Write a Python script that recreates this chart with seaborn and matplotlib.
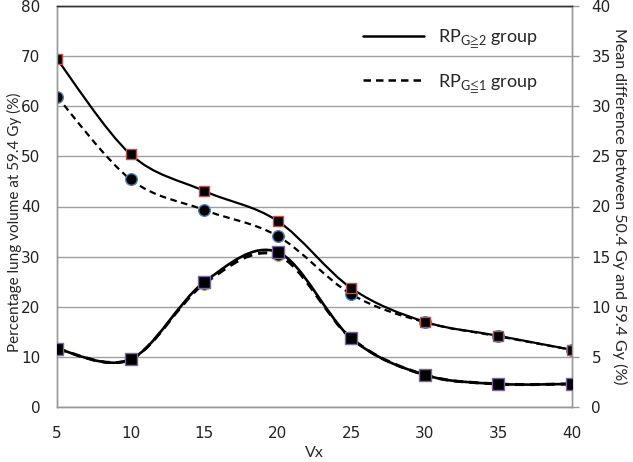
import numpy as np
import matplotlib
matplotlib.use("Agg")
import matplotlib.pyplot as plt
from matplotlib.path import Path
from matplotlib.patches import PathPatch
from matplotlib.lines import Line2D
import seaborn as sns
import pandas as pd

# ---- data ----
vx = [5, 10, 15, 20, 25, 30, 35, 40]
vol_g2 = [69.4, 50.4, 43.1, 37.1, 23.7, 17.0, 14.2, 11.4]      # RP G>=2, left axis
vol_g1 = [61.9, 45.4, 39.3, 34.1, 22.5, 16.9, 14.1, 11.4]      # RP G<=1, left axis
diff_g2 = [5.8, 4.75, 12.45, 15.45, 6.85, 3.2, 2.3, 2.3]      # right axis
diff_g1 = [5.8, 4.75, 12.3, 15.15, 6.85, 3.2, 2.3, 2.3]       # right axis
legend_labels = [r"RP$_{\mathregular{G≧2}}$ group", r"RP$_{\mathregular{G≦1}}$ group"]

sns.set_theme(style="white")
plt.rcParams["font.family"] = ["DejaVu Sans"]

fig = plt.figure(figsize=(6.33, 4.62), dpi=100)
ax = fig.add_axes([57/633, 1-407/462, (572-57)/633, (407-6)/462])
ax2 = ax.twinx()


def smooth(axis, xs, ys, **kw):
    P = np.column_stack([xs, ys]).astype(float)
    ext = np.vstack([P[0], P, P[-1]])
    verts = [tuple(P[0])]
    codes = [Path.MOVETO]
    for i in range(len(P) - 1):
        p0, p1, p2, p3 = ext[i], ext[i+1], ext[i+2], ext[i+3]
        c1 = p1 + (p2 - p0) / 6.0
        c2 = p2 - (p3 - p1) / 6.0
        verts += [tuple(c1), tuple(c2), tuple(p2)]
        codes += [Path.CURVE4] * 3
    patch = PathPatch(Path(verts, codes), facecolor="none", transform=axis.transData, **kw)
    axis.add_patch(patch)


dash = (0, (3, 2))
smooth(ax, vx, vol_g2, edgecolor="black", lw=1.6, zorder=3)
smooth(ax, vx, vol_g1, edgecolor="black", lw=1.6, linestyle=dash, zorder=3)
smooth(ax2, vx, diff_g1, edgecolor="black", lw=2.2, linestyle=dash, zorder=3)
smooth(ax2, vx, diff_g2, edgecolor="black", lw=1.9, zorder=3)

df_up = pd.DataFrame({"vx": vx, "g2": vol_g2, "g1": vol_g1})
df_lo = pd.DataFrame({"vx": vx, "g2": diff_g2, "g1": diff_g1})
sns.scatterplot(data=df_up, x="vx", y="g1", ax=ax, marker="o", s=70, color="black",
                edgecolor="#4f81bd", linewidth=1.0, zorder=4, legend=False)
sns.scatterplot(data=df_up, x="vx", y="g2", ax=ax, marker="s", s=55, color="black",
                edgecolor="#c0504d", linewidth=1.0, zorder=5, legend=False)
sns.scatterplot(data=df_lo, x="vx", y="g1", ax=ax2, marker="o", s=70, color="black",
                edgecolor="#9bbb59", linewidth=1.0, zorder=4, legend=False)
sns.scatterplot(data=df_lo, x="vx", y="g2", ax=ax2, marker="s", s=85, color="black",
                edgecolor="#8064a2", linewidth=1.0, zorder=5, legend=False)

ax.set_xlim(5, 40)
ax.set_ylim(0, 80)
ax2.set_ylim(0, 40)
ax.set_xticks(vx)
ax.set_yticks(np.arange(0, 81, 10))
ax2.set_yticks(np.arange(0, 41, 5))
ax.grid(axis="y", color="#a0a0a0", lw=1.0)
ax.grid(axis="x", visible=False)
ax2.grid(False)

for a in (ax, ax2):
    for s in ("left", "right", "bottom"):
        a.spines[s].set_color("#999999")
        a.spines[s].set_linewidth(1.0)
    a.spines["top"].set_color("#333333")
    a.spines["top"].set_linewidth(1.0)
    a.set_facecolor("none")

ax.tick_params(axis="both", length=0, labelsize=11, colors="#222222")
ax.tick_params(axis="x", pad=14)
ax.tick_params(axis="y", pad=12)
ax2.tick_params(axis="y", length=5, width=1, color="#999999", labelsize=11,
                labelcolor="#222222", pad=9)

lab_font = ["Lato", "DejaVu Sans"]
ax.set_xlabel("Vx", family=lab_font, fontsize=11.5)
ax.xaxis.set_label_coords(0.5, -0.098)
ax.set_ylabel("Percentage lung volume at 59.4 Gy (%)", family=lab_font, fontsize=11)
ax.yaxis.set_label_coords(-0.068, 0.46)
ax2.set_ylabel("Mean difference between 50.4 Gy and 59.4 Gy (%)", family=lab_font,
               fontsize=11.5, rotation=270, labelpad=12)

handles = [Line2D([], [], color="black", lw=1.8),
           Line2D([], [], color="black", lw=1.8, linestyle=dash)]
leg = ax.legend(handles, legend_labels, loc="upper left", frameon=False,
                bbox_to_anchor=(363/633, 1-27/462), bbox_transform=fig.transFigure,
                handlelength=3.4, handletextpad=0.75, labelspacing=1.2, borderpad=0,
                borderaxespad=0, prop={"family": ["Lato", "DejaVu Sans"], "size": 13})

fig.savefig("out.png", dpi=100)
